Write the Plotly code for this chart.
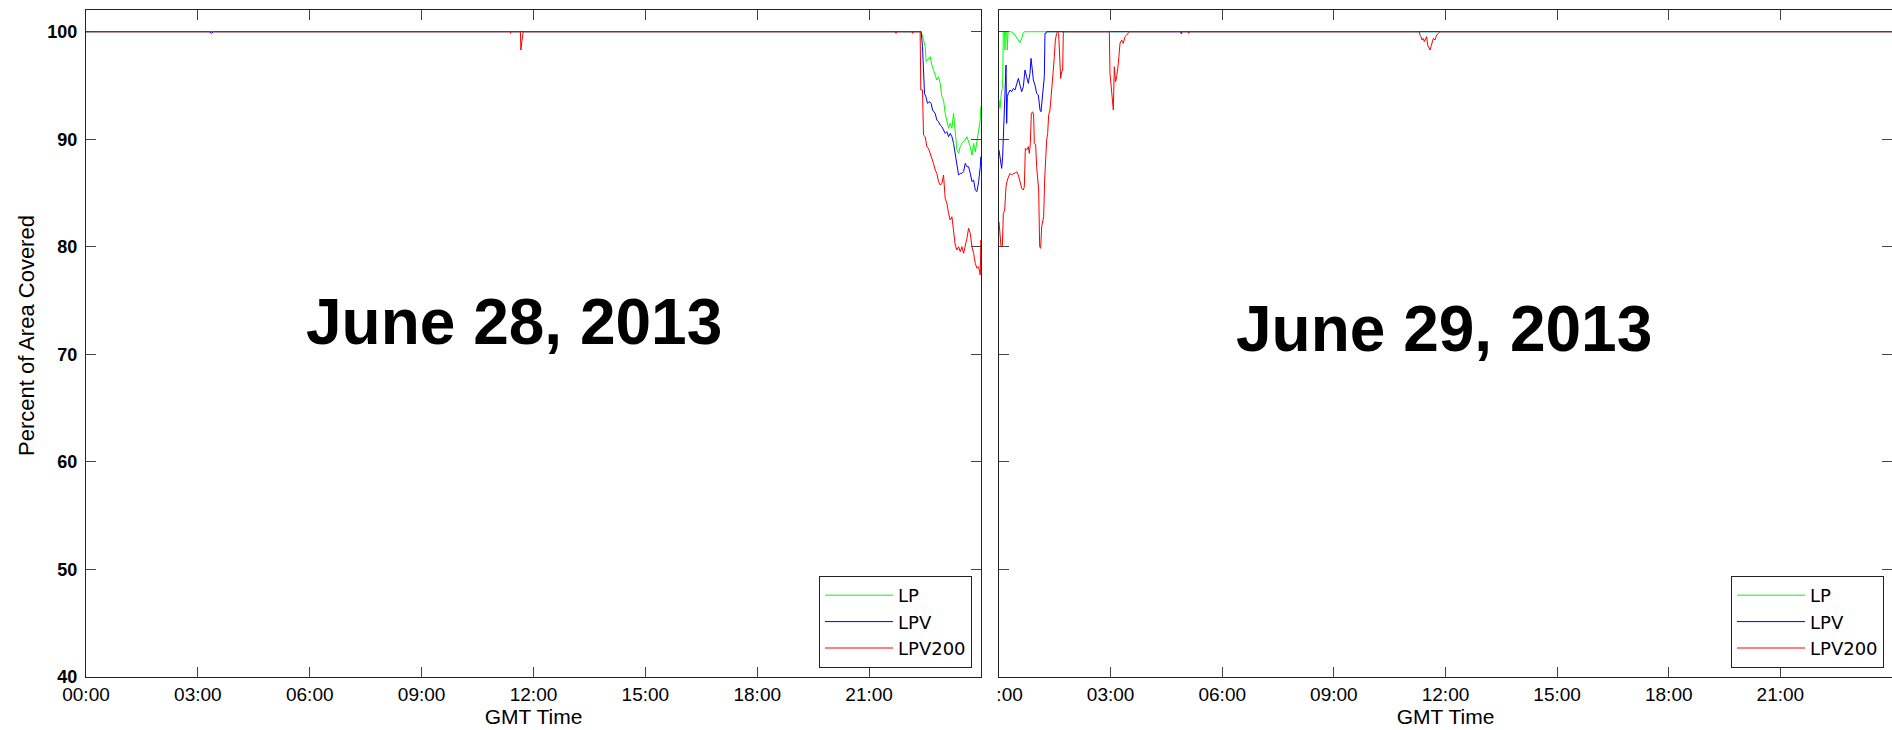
import plotly.graph_objects as go
from plotly.subplots import make_subplots

# ---------------- data (GMT hours, percent of area covered) ----------------
series_names = ["LP", "LPV", "LPV200"]
series_colors = ["#00ff00", "#0000ff", "#ff0000"]

tick_hours = [0, 3, 6, 9, 12, 15, 18, 21]
tick_labels = ["00:00", "03:00", "06:00", "09:00", "12:00", "15:00", "18:00", "21:00"]
y_ticks = [40, 50, 60, 70, 80, 90, 100]

# June 28, 2013
d28_lp_t = [0, 22.395, 22.458, 22.503, 22.530, 22.592, 22.637, 22.682, 22.771, 22.816, 22.861,
            22.906, 22.951, 22.996, 23.040, 23.085, 23.130, 23.175, 23.220, 23.264, 23.309,
            23.354, 23.399, 23.443, 23.488, 23.533, 23.578, 23.623, 23.667, 23.712, 23.757,
            23.802, 23.847, 23.891, 23.936, 23.981, 23.995]
d28_lp_v = [100, 100, 99.23, 98.61, 97.21, 97.52, 97.68, 96.90, 95.97, 95.51, 95.82,
            95.20, 93.96, 93.65, 92.41, 91.63, 91.02, 91.48, 91.02, 92.41, 90.24,
            89.00, 88.69, 89.31, 89.62, 89.78, 89.93, 90.24, 89.78, 89.31, 88.54,
            89.62, 88.84, 89.93, 91.02, 91.79, 93.03]

d28_lpv_t = [0, 3.30, 3.36, 3.42, 22.395, 22.431, 22.458, 22.485, 22.521, 22.566, 22.610,
             22.664, 22.700, 22.771, 22.816, 22.861, 22.906, 22.951, 22.996, 23.040, 23.085,
             23.130, 23.175, 23.220, 23.264, 23.309, 23.354, 23.399, 23.443, 23.488, 23.533,
             23.578, 23.623, 23.667, 23.712, 23.757, 23.802, 23.847, 23.891, 23.936, 23.981,
             23.995]
d28_lpv_v = [100, 100, 99.85, 100, 100, 98.61, 96.44, 94.27, 93.96, 93.34, 93.50,
             93.34, 92.72, 92.41, 91.79, 91.63, 91.32, 91.17, 90.86, 90.55, 90.71,
             90.24, 90.55, 90.24, 89.62, 88.69, 87.45, 86.67, 86.83, 86.83, 86.99,
             87.76, 87.45, 87.45, 86.83, 86.06, 86.21, 85.28, 85.13, 86.06, 87.45,
             88.38]

d28_lpv200_t = [0, 11.380, 11.385, 11.390, 11.650, 11.660, 11.670, 11.690, 11.705, 11.715,
                11.725, 21.700, 21.720, 21.740, 22.150, 22.170, 22.190, 22.368, 22.386,
                22.431, 22.458, 22.503, 22.548, 22.592, 22.637, 22.682, 22.727, 22.771,
                22.816, 22.861, 22.906, 22.951, 22.996, 23.040, 23.085, 23.130, 23.175,
                23.220, 23.264, 23.309, 23.354, 23.399, 23.443, 23.488, 23.533, 23.578,
                23.623, 23.667, 23.712, 23.757, 23.802, 23.847, 23.891, 23.936, 23.981,
                23.995]
d28_lpv200_v = [100, 100, 99.85, 100, 100, 98.30, 98.50, 99.20, 99.60, 99.85,
                100, 100, 99.85, 100, 100, 99.85, 100, 100, 94.58,
                94.58, 90.39, 90.24, 89.31, 89.15, 88.69, 88.38, 87.76, 87.14,
                86.83, 86.06, 85.74, 85.90, 86.67, 84.50, 84.04, 83.11, 82.49,
                82.80, 81.56, 80.17, 79.70, 80.01, 79.55, 80.01, 79.39, 80.01,
                80.79, 81.72, 81.25, 80.01, 79.39, 78.46, 78.00, 78.15, 77.38,
                80.63]

# June 29, 2013
d29_lp_t = [0, 0.027, 0.072, 0.098, 0.116, 0.152, 0.161, 0.170, 0.206, 0.224, 0.242,
            0.340, 0.430, 0.520, 0.564, 0.609, 0.654, 0.699, 24]
d29_lp_v = [93.65, 92.87, 94.58, 94.73, 100, 100, 98.30, 100, 100, 98.30, 100,
            100, 99.69, 99.23, 98.98, 99.38, 99.94, 100, 100]

d29_lpv_t = [0, 0.045, 0.072, 0.098, 0.116, 0.134, 0.161, 0.188, 0.206, 0.224, 0.251,
             0.295, 0.340, 0.385, 0.430, 0.475, 0.520, 0.564, 0.609, 0.654, 0.699,
             0.743, 0.788, 0.833, 0.860, 0.896, 0.923, 0.967, 1.012, 1.057, 1.102,
             1.129, 1.164, 1.191, 1.218, 1.236, 1.263, 1.281, 4.880, 4.900, 4.920, 24]
d29_lpv_v = [89.00, 88.07, 87.29, 88.38, 89.93, 91.48, 94.89, 96.90, 91.48, 93.96, 94.27,
             94.58, 94.42, 94.73, 94.58, 95.20, 95.66, 95.04, 94.42, 94.89, 96.44,
             95.82, 95.20, 96.13, 97.52, 96.44, 95.51, 95.04, 94.27, 94.11, 92.72,
             92.56, 93.65, 95.04, 95.82, 99.85, 99.85, 100, 100, 99.80, 100, 100]

d29_lpv200_t = [0, 0.027, 0.054, 0.090, 0.116, 0.152, 0.188, 0.224, 0.251, 0.295, 0.340,
                0.385, 0.430, 0.475, 0.520, 0.564, 0.609, 0.654, 0.681, 0.708, 0.743,
                0.788, 0.815, 0.842, 0.869, 0.905, 0.931, 0.949, 0.985, 1.012, 1.039,
                1.066, 1.093, 1.120, 1.147, 1.173, 1.200, 1.227, 1.254, 1.281, 1.308,
                1.335, 1.370, 1.397, 1.424, 1.460, 1.487, 1.514, 1.550, 1.577, 1.603,
                1.639, 1.657, 1.684, 1.711, 1.729,
                2.965, 2.983, 3.001, 3.028, 3.055, 3.073, 3.099, 3.135, 3.162, 3.207,
                3.252, 3.297, 3.341, 3.386, 3.431, 3.476, 3.503,
                5.080, 5.100, 5.120,
                11.296, 11.314, 11.341, 11.368, 11.404, 11.431, 11.458, 11.493, 11.520,
                11.556, 11.583, 11.610, 11.637, 11.673, 11.717, 11.762, 11.807, 11.852, 24]
d29_lpv200_v = [82.33, 81.25, 80.01, 80.01, 83.11, 83.42, 85.59, 86.21, 86.52, 86.83, 86.67,
                86.83, 86.83, 86.99, 86.67, 86.06, 85.44, 85.28, 85.59, 89.15, 89.00,
                89.31, 88.69, 89.62, 92.41, 92.56, 92.25, 89.62, 89.47, 87.45, 86.21,
                85.28, 80.01, 79.86, 81.87, 82.49, 82.80, 86.21, 88.69, 89.93, 90.55,
                92.25, 92.72, 93.65, 94.89, 96.44, 97.68, 99.23, 99.85, 100, 99.85,
                97.68, 95.66, 96.28, 96.44, 100,
                100, 96.13, 95.51, 94.11, 93.65, 92.72, 96.75, 95.35, 95.82, 97.06,
                98.92, 99.23, 98.92, 99.54, 99.69, 99.91, 100,
                100, 99.85, 100,
                100, 99.69, 99.54, 99.23, 99.38, 99.07, 99.23, 99.54, 98.76,
                98.45, 98.30, 98.61, 98.92, 99.38, 99.23, 99.69, 99.85, 100, 100]

panels = [
    ("June 28, 2013", [(d28_lp_t, d28_lp_v), (d28_lpv_t, d28_lpv_v), (d28_lpv200_t, d28_lpv200_v)]),
    ("June 29, 2013", [(d29_lp_t, d29_lp_v), (d29_lpv_t, d29_lpv_v), (d29_lpv200_t, d29_lpv200_v)]),
]

# ---------------- figure ----------------
W, H = 1892, 730
FONT = "Liberation Sans, Arial, Helvetica, sans-serif"
LEGFONT = "DejaVu Sans, Liberation Sans, sans-serif"

fig = make_subplots(rows=1, cols=2)

for col, (label, series) in enumerate(panels, start=1):
    for i, (t, v) in enumerate(series):
        fig.add_trace(go.Scatter(
            x=t, y=v, mode="lines", name=series_names[i],
            line=dict(color=series_colors[i], width=1),
            legend="legend" if col == 1 else "legend2",
            hoverinfo="skip",
        ), row=1, col=col)

px_x = lambda p: p / W
px_y = lambda p: 1 - p / H

axis_common = dict(
    showline=True, linecolor="#222", linewidth=1, mirror="ticks",
    ticks="inside", ticklen=10, tickcolor="#444", tickwidth=1,
    showgrid=False, zeroline=False, automargin=False,
)
xtitle = dict(text="GMT Time", font=dict(family=FONT, size=21, color="#000"), standoff=2)

legend_common = dict(
    xanchor="right", yanchor="bottom", bgcolor="white", bordercolor="#222", borderwidth=1,
    font=dict(family=LEGFONT, size=18, color="#000"), itemwidth=68, tracegroupgap=0,
)

fig.update_layout(
    xaxis=dict(domain=[px_x(86), px_x(981)], range=[0, 24], tickvals=tick_hours, ticktext=tick_labels,
               tickfont=dict(family=FONT, size=19, color="#000"), title=xtitle, **axis_common),
    xaxis2=dict(domain=[px_x(999), 1.0], range=[0, 24], tickvals=tick_hours, ticktext=tick_labels,
                tickfont=dict(family=FONT, size=19, color="#000"), title=xtitle, **axis_common),
    yaxis=dict(domain=[px_y(677), px_y(10)], range=[40, 102.02], tickvals=y_ticks,
               tickfont=dict(family=FONT, size=18, color="#000", weight="bold"),
               ticklabelstandoff=4, **axis_common),
    yaxis2=dict(domain=[px_y(677), px_y(10)], range=[40, 102.02], tickvals=y_ticks,
                showticklabels=False, **axis_common),
    width=W, height=H,
    margin=dict(l=0, r=0, t=0, b=0),
    paper_bgcolor="white", plot_bgcolor="white",
    template="none",
    legend=dict(x=px_x(972), y=px_y(668), **legend_common),
    legend2=dict(x=px_x(1884), y=px_y(668), **legend_common),
    showlegend=True,
)

# big date labels
fig.add_annotation(text="<b>June 28, 2013</b>", x=px_x(514), y=px_y(322), xref="paper", yref="paper",
                   xanchor="center", yanchor="middle",
                   showarrow=False, font=dict(family=FONT, size=64, color="#000"))
fig.add_annotation(text="<b>June 29, 2013</b>", x=px_x(1444), y=px_y(329), xref="paper", yref="paper",
                   xanchor="center", yanchor="middle",
                   showarrow=False, font=dict(family=FONT, size=64, color="#000"))

# y axis title
fig.add_annotation(text="Percent of Area Covered", x=px_x(26), y=px_y(336), xref="paper", yref="paper",
                   xanchor="center", yanchor="middle",
                   showarrow=False, textangle=-90, font=dict(family=FONT, size=22, color="#000"))

# the right panel's first time label is cut off at its left in the original
fig.add_shape(type="rect", xref="paper", yref="paper", layer="above",
              x0=px_x(955), x1=px_x(996), y0=px_y(712), y1=px_y(681),
              fillcolor="white", line=dict(width=0))

fig.write_html("out.html", config={"displayModeBar": False},
               post_script="document.body.style.margin='0';")
